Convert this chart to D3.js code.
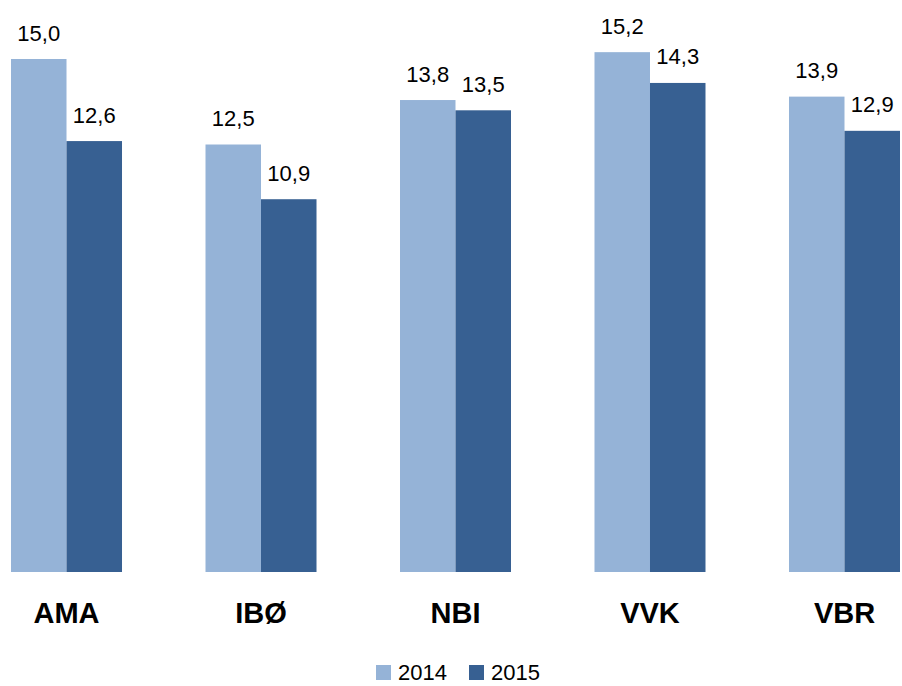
<!DOCTYPE html>
<html>
<head>
<meta charset="utf-8">
<script src="https://cdn.jsdelivr.net/npm/d3@7"></script>
<style>
  body { margin: 0; background: #fff; }
  svg { display: block; }
</style>
</head>
<body>
<script>
// data
var categories = ['AMA', 'IBØ', 'NBI', 'VVK', 'VBR'];
var seriesNames = ['2014', '2015'];
var values2014 = [15.0, 12.5, 13.8, 15.2, 13.9];
var values2015 = [12.6, 10.9, 13.5, 14.3, 12.9];
var colors = ['#95B3D7', '#376092'];

var width = 902, height = 686;
var baseline = 572;

var svg = d3.select('body').append('svg')
    .attr('width', width)
    .attr('height', height);

// plot area runs a bit past the picture edges, like the source
var xScale = d3.scaleBand()
    .domain(categories)
    .range([-30.75, 941.75])
    .paddingInner(0.4293)
    .paddingOuter(0.2147);

var xInner = d3.scaleBand()
    .domain(seriesNames)
    .range([0, xScale.bandwidth()]);

var yScale = d3.scaleLinear().domain([0, 16]).range([baseline, baseline - 16 * 34.2]);

var rows = categories.map(function (c, i) {
    return { cat: c, vals: [{ s: '2014', v: values2014[i] }, { s: '2015', v: values2015[i] }] };
});

var groups = svg.selectAll('.grp')
    .data(rows)
    .enter()
    .append('g')
    .attr('class', 'grp')
    .attr('transform', d => `translate(${xScale(d.cat)},0)`);

groups.selectAll('rect')
    .data(d => d.vals)
    .enter()
    .append('rect')
    .attr('x', d => xInner(d.s))
    .attr('width', xInner.bandwidth())
    .attr('y', d => yScale(d.v))
    .attr('height', d => baseline - yScale(d.v))
    .attr('fill', (d, i) => colors[i]);

// value labels, comma decimal
groups.selectAll('text.val')
    .data(d => d.vals)
    .enter()
    .append('text')
    .attr('class', 'val')
    .attr('x', d => xInner(d.s) + xInner.bandwidth() / 2)
    .attr('y', d => yScale(d.v) - 18.5)
    .attr('text-anchor', 'middle')
    .style('font-family', 'Liberation Sans, Arial, sans-serif')
    .style('font-size', '22px')
    .attr('fill', '#000')
    .text(d => d.v.toFixed(1).replace('.', ','));

// category labels
var xAxis = d3.axisBottom(xScale).tickSize(0).tickPadding(0);
var axisG = svg.append('g')
    .attr('transform', `translate(0,${baseline})`)
    .call(xAxis);
axisG.select('.domain').remove();
axisG.selectAll('text')
    .attr('dy', null)
    .attr('y', 51)
    .style('font-family', 'Liberation Sans, Arial, sans-serif')
    .style('font-size', '29px')
    .style('font-weight', 'bold')
    .attr('fill', '#000');

// legend
var legendX = [376, 469];
var legend = svg.selectAll('.leg')
    .data(seriesNames)
    .enter()
    .append('g')
    .attr('class', 'leg')
    .attr('transform', (d, i) => `translate(${legendX[i]},665)`);
legend.append('rect')
    .attr('width', 15)
    .attr('height', 15)
    .attr('fill', (d, i) => colors[i]);
legend.append('text')
    .attr('x', 22)
    .attr('y', 15)
    .style('font-family', 'Liberation Sans, Arial, sans-serif')
    .style('font-size', '22px')
    .attr('fill', '#000')
    .text(d => d);
</script>
</body>
</html>
